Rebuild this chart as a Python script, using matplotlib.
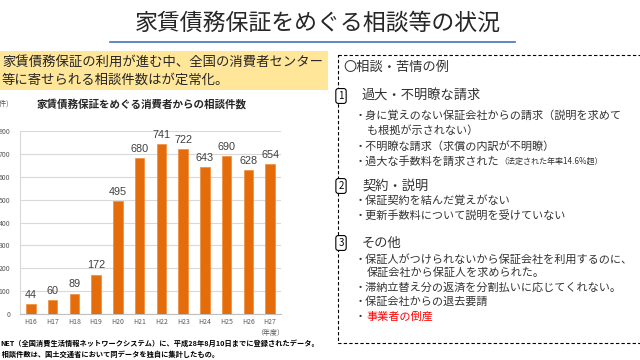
import matplotlib
matplotlib.use("Agg")
import matplotlib.pyplot as plt
from matplotlib.patches import Rectangle

plt.rcParams['font.family'] = ['Noto Sans CJK JP', 'DejaVu Sans']

# ---- data ----
years = ["H16", "H17", "H18", "H19", "H20", "H21", "H22", "H23", "H24", "H25", "H26", "H27"]
counts = [44, 60, 89, 172, 495, 680, 741, 722, 643, 690, 628, 654]
y_ticks = [0, 100, 200, 300, 400, 500, 600, 700, 800]

slide_title = "家賃債務保証をめぐる相談等の状況"
summary_lines = ["家賃債務保証の利用が進む中、全国の消費者センター", "等に寄せられる相談件数はが定常化。"]
chart_title = "家賃債務保証をめぐる消費者からの相談件数"
footnotes = ["NET（全国消費生活情報ネットワークシステム）に、平成28年8月10日までに登録されたデータ。",
             " 相談件数は、国土交通省において同データを独自に集計したもの。"]

box_title = "〇相談・苦情の例"
sections = [
    ("1", "過大・不明瞭な請求"),
    ("2", "契約・説明"),
    ("3", "その他"),
]

fig = plt.figure(figsize=(6.4, 3.6), dpi=100)
fig.patch.set_facecolor("white")

# overlay axes in pixel coordinates
ov = fig.add_axes([0, 0, 1, 1])
ov.set_xlim(0, 640)
ov.set_ylim(360, 0)
ov.axis("off")

dark = "#262626"
txt = "#333333"

# title
ov.text(318, 23, slide_title, fontsize=16.5, color=dark, ha="center", va="center")
ov.plot([110, 515], [42, 42], color="#4472C4", lw=1.2)

# yellow summary box
ov.add_patch(Rectangle((0, 51), 328, 39, facecolor="#FFE699", edgecolor="none"))
ov.text(2, 62, summary_lines[0], fontsize=9.6, color=dark, va="center")
ov.text(2, 80, summary_lines[1], fontsize=9.6, color=dark, va="center")

# chart title & unit
ov.text(37, 104, chart_title, fontsize=7.6, fontweight="bold", color=dark, va="center")
ov.text(9, 104, "(件)", fontsize=5, color="#595959", va="center", ha="right")
ov.text(284, 333, "（年度）", fontsize=5, color="#595959", va="center", ha="right")

# footnotes
ov.text(0, 343, footnotes[0], fontsize=5.2, fontweight="bold", color="black", va="center")
ov.text(0, 354, footnotes[1], fontsize=5.2, fontweight="bold", color="black", va="center")

# dashed box
ov.add_patch(Rectangle((338, 55), 330, 288, facecolor="none", edgecolor="black",
                       lw=0.8, linestyle=(0, (3, 2)), clip_on=False))
ov.text(343, 67, box_title, fontsize=9.5, color=txt, va="center")

sec_y = [96, 186, 243]
for (num, head), yy in zip(sections, sec_y):
    ov.text(341, yy, num, fontsize=7, color="black", ha="center", va="center",
            bbox=dict(boxstyle="round,pad=0.25", fc="white", ec="black", lw=0.8))
    ov.text(362, yy, head, fontsize=9.5, color=txt, va="center")

items = [
    (355, 116, "・身に覚えのない保証会社からの請求（説明を求めて", txt),
    (367, 131, "も根拠が示されない）", txt),
    (355, 146, "・不明瞭な請求（求償の内訳が不明瞭）", txt),
    (355, 201, "・保証契約を結んだ覚えがない", txt),
    (355, 215, "・更新手数料について説明を受けていない", txt),
    (355, 259, "・保証人がつけられないから保証会社を利用するのに、", txt),
    (367, 273, "保証会社から保証人を求められた。", txt),
    (355, 288, "・滞納立替え分の返済を分割払いに応じてくれない。", txt),
    (355, 302, "・保証会社からの退去要請", txt),
]
for x, y, s, c in items:
    ov.text(x, y, s, fontsize=8, color=c, va="center")

t = ov.text(355, 161, "・過大な手数料を請求された", fontsize=8, color=txt, va="center")
ov.annotate("（法定された年率14.6%超）", xy=(1, 0.5), xycoords=t, fontsize=5.8,
            color=txt, va="center", ha="left")

tb = ov.text(355, 317, "・", fontsize=8, color=txt, va="center")
ov.annotate("事業者の倒産", xy=(1, 0.5), xycoords=tb, fontsize=8, color="#FF0000",
            va="center", ha="left")

# ---- bar chart ----
ax = fig.add_axes([20 / 640, 1 - 314 / 360, 261 / 640, 183 / 360])
x = list(range(len(years)))
bars = ax.bar(x, counts, width=0.43, color="#E46C0A", edgecolor="#F08A3A", linewidth=0.5, zorder=3)
ax.set_xlim(-0.5, len(years) - 0.5)
ax.set_ylim(0, 800)
ax.set_yticks(y_ticks)
ax.set_yticklabels([str(v) for v in y_ticks], fontsize=5, color="#595959")
ax.set_xticks(x)
ax.set_xticklabels(years, fontsize=5, color="#595959")
ax.tick_params(axis="y", length=0, pad=7)
ax.tick_params(axis="x", length=0, pad=3)
ax.grid(axis="y", color="#D9D9D9", lw=0.8, zorder=0)
for s in ["top", "right"]:
    ax.spines[s].set_visible(False)
ax.spines["left"].set_color("#D9D9D9")
ax.spines["left"].set_linewidth(0.8)
ax.spines["bottom"].set_color("#BFBFBF")
ax.spines["bottom"].set_linewidth(0.8)
ax.set_facecolor("none")
for xi, v in zip(x, counts):
    ax.annotate(str(v), (xi, v), xytext=(0, 3), textcoords="offset points",
                ha="center", va="bottom", fontsize=7.8, color="#404040",
                family=["Liberation Sans", "DejaVu Sans"])

fig.savefig("out.png", dpi=100)
